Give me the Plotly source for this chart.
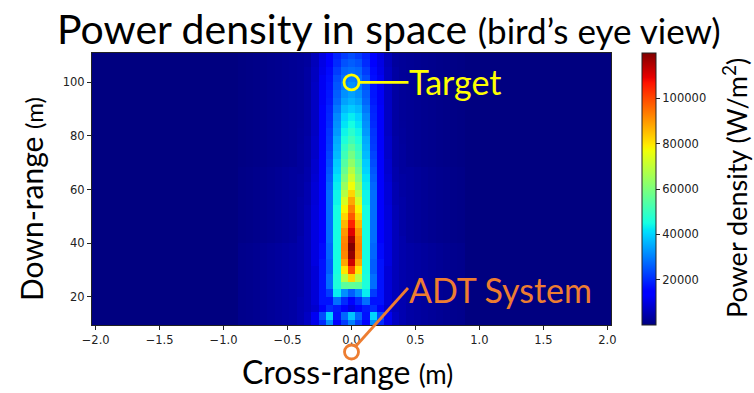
import numpy as np
import plotly.graph_objects as go

# Grid of the simulated field: cross-range columns and down-range rows (m)
cross_range = np.linspace(-2.0, 2.0, 71)
down_range = np.linspace(10.0, 110.0, 36)

# Power density (W/m^2) along each down-range row, from the beam axis outward
# (column 0 is 0 m, then one column per 4/70 m). The field is symmetric about
# the axis and negligible beyond the listed columns.
half_profiles = [
    [30000, 22000, 15000, 32000, 20000, 11000, 7000, 5000, 3800, 3400, 3000, 2600, 2200, 1800, 1500, 1200],  # 10.0
    [38000, 27000, 17000, 40000, 24000, 12000, 7000, 5000, 3800, 3400, 3000, 2600, 2200, 1800, 1500, 1200],  # 12.9
    [10000, 13000, 18000, 20000, 13000, 8000, 6000, 5000, 3800, 3400, 3000, 2600, 2200, 1800, 1500, 1200],   # 15.7
    [14000, 20000, 28000, 17000, 17000, 9000, 6000, 5000, 3800, 3400, 3000, 2600, 2200, 1800, 1500, 1200],   # 18.6
    [26000, 32000, 43000, 22000, 17000, 9000, 6000, 4500, 3800, 3400, 3000, 2600, 2200, 1800, 1500, 1200],   # 21.4
    [56000, 55000, 46000, 28000, 17000, 9000, 6000, 4500, 3800, 3400, 3000, 2600, 2200, 1800, 1500, 1200],   # 24.3
    [82000, 68000, 46000, 28000, 17000, 9000, 6000, 4500, 3800, 3400, 3000, 2600, 2200, 1800, 1500, 1200],   # 27.1
    [100000, 80000, 45000, 26000, 17000, 9000, 6000, 4500, 3800, 3400, 3000, 2600, 2200, 1800, 1500, 1200],  # 30.0
    [112000, 88000, 45000, 26000, 17000, 10000, 6000, 4500, 3800, 3400, 3000, 2600, 2200, 1800, 1500, 1200], # 32.9
    [118000, 92000, 45000, 27000, 16000, 10000, 6000, 4500, 3800, 3400, 3000, 2600, 2200, 1800, 1500, 1200], # 35.7
    [120000, 93000, 45000, 27000, 16000, 10000, 6000, 4500, 3800, 3400, 3000, 2600, 2200, 1800, 1500, 1200], # 38.6
    [116000, 92000, 45000, 28000, 15000, 10000, 6000, 4500, 3000, 2600, 2200, 1800, 1500, 1200, 900, 700],   # 41.4
    [110000, 90000, 45000, 28000, 15000, 10000, 6000, 4000, 3000, 2600, 2200, 1800, 1500, 1200, 900, 700],   # 44.3
    [105000, 86000, 45000, 28000, 15000, 10000, 6000, 4000, 3000, 2600, 2200, 1800, 1500, 1200, 900, 700],   # 47.1
    [98000, 82000, 45000, 28000, 15000, 9500, 5500, 4000, 3000, 2600, 2200, 1800, 1500, 1200, 900, 700],     # 50.0
    [93000, 78000, 45000, 28000, 15000, 9500, 5500, 4000, 3000, 2600, 2200, 1800, 1500, 1200, 900, 700],     # 52.9
    [88000, 73000, 44000, 28000, 15000, 9000, 5000, 4000, 3000, 2600, 2200, 1800, 1500, 1200, 900, 700],     # 55.7
    [82000, 68000, 44000, 28000, 15000, 9000, 5000, 3500, 3000, 2600, 2200, 1800, 1500, 1200, 900, 700],     # 58.6
    [77000, 64000, 43000, 27000, 15000, 9000, 5000, 3500, 3000, 2600, 2200, 1800, 1500, 1200, 900, 700],     # 61.4
    [72000, 60000, 42000, 26000, 14500, 8500, 4500, 3500, 3000, 2600, 2200, 1800, 1500, 1200, 900, 700],     # 64.3
    [68000, 57000, 40000, 25000, 14000, 8000, 4500, 3000, 3000, 2600, 2200, 1800, 1500, 1200, 900, 700],     # 67.1
    [63000, 54000, 39000, 24000, 14000, 8000, 4000, 3000, 2200, 1900, 1600, 1300, 1000, 800, 600, 400],      # 70.0
    [59000, 51000, 37000, 23000, 13500, 7500, 4000, 3000, 2200, 1900, 1600, 1300, 1000, 800, 600, 400],      # 72.9
    [55000, 49000, 36000, 22000, 13000, 7500, 4000, 3000, 2200, 1900, 1600, 1300, 1000, 800, 600, 400],      # 75.7
    [51000, 46000, 35000, 21500, 13000, 7500, 4000, 2800, 2200, 1900, 1600, 1300, 1000, 800, 600, 400],      # 78.6
    [48000, 44000, 33000, 21000, 13000, 7000, 3500, 2800, 2200, 1900, 1600, 1300, 1000, 800, 600, 400],      # 81.4
    [45000, 42000, 32000, 20000, 13000, 7000, 3500, 2600, 2200, 1900, 1600, 1300, 1000, 800, 600, 400],      # 84.3
    [43000, 40000, 31000, 19500, 13000, 7000, 3500, 2500, 2200, 1900, 1600, 1300, 1000, 800, 600, 400],      # 87.1
    [39000, 37000, 29000, 19000, 13000, 7000, 3500, 2500, 2200, 1900, 1600, 1300, 1000, 800, 600, 400],      # 90.0
    [36000, 34000, 27000, 18000, 12500, 7000, 3500, 2500, 2200, 1900, 1600, 1300, 1000, 800, 600, 400],      # 92.9
    [34000, 32000, 26000, 17500, 12500, 7000, 3500, 2500, 2200, 1900, 1600, 1300, 1000, 800, 600, 400],      # 95.7
    [32000, 30000, 25000, 17000, 12000, 7000, 3500, 2500, 2200, 1900, 1600, 1300, 1000, 800, 600, 400],      # 98.6
    [30000, 28500, 24000, 16500, 12000, 6500, 3500, 2500, 2200, 1900, 1600, 1300, 1000, 800, 600, 400],      # 101.4
    [28000, 27000, 22000, 16000, 11000, 6500, 3500, 2500, 2200, 1900, 1600, 1300, 1000, 800, 600, 400],      # 104.3
    [26000, 24500, 20000, 15000, 10500, 6000, 3000, 2500, 2200, 1900, 1600, 1300, 1000, 800, 600, 400],      # 107.1
    [24000, 22000, 19000, 14000, 10000, 6000, 3000, 2500, 2200, 1900, 1600, 1300, 1000, 800, 600, 400],      # 110.0
]

colorbar_ticks = [20000, 40000, 60000, 80000, 100000]
x_ticks = [-2.0, -1.5, -1.0, -0.5, 0.0, 0.5, 1.0, 1.5, 2.0]
y_ticks = [20, 40, 60, 80, 100]

# Mirror each half profile into a full row across all cross-range columns
n_half = (len(cross_range) - 1) // 2
z = []
for half in half_profiles:
    row = []
    for k in range(-n_half, n_half + 1):
        row.append(half[abs(k)] if abs(k) < len(half) else 0)
    z.append(row)

# matplotlib "jet" colormap as a plotly colorscale
_jet = {
    "r": [(0, 0), (0.35, 0), (0.66, 1), (0.89, 1), (1, 0.5)],
    "g": [(0, 0), (0.125, 0), (0.375, 1), (0.64, 1), (0.91, 0), (1, 0)],
    "b": [(0, 0.5), (0.11, 1), (0.34, 1), (0.65, 0), (1, 0)],
}
_stops = sorted({p for seg in _jet.values() for p, _ in seg})


def _chan(seg, t):
    xs, vs = zip(*seg)
    return float(np.interp(t, xs, vs))


jet = [
    [t, "rgb({:.0f},{:.0f},{:.0f})".format(
        255 * _chan(_jet["r"], t), 255 * _chan(_jet["g"], t), 255 * _chan(_jet["b"], t))]
    for t in _stops
]

W, H = 754, 393
L, R, T, B = 92, 143, 53, 68
PW, PH = W - L - R, H - T - B


def px(xp):
    return (xp - L) / PW


def py(yp):
    return (H - B - yp) / PH


half_step = (cross_range[1] - cross_range[0]) / 2

fig = go.Figure(
    go.Heatmap(
        x=cross_range,
        y=down_range,
        z=z,
        colorscale=jet,
        zmin=0,
        zmax=120000,
        colorbar=dict(
            x=px(642), xanchor="left", xref="paper", xpad=0,
            y=0.5, yanchor="middle", ypad=0, len=1, lenmode="fraction",
            thickness=14, outlinewidth=1, outlinecolor="#222",
            tickvals=colorbar_ticks, tickformat="d", ticks="outside", ticklen=4,
            tickcolor="#222", tickwidth=1,
            tickfont=dict(family="DejaVu Sans", size=11.5, color="#222"),
        ),
        hoverinfo="skip",
    )
)

axis_font = dict(family="DejaVu Sans", size=11.5, color="#222")
fig.update_xaxes(
    range=[cross_range[0] - half_step, cross_range[-1] + half_step],
    tickvals=x_ticks, tickformat=".1f", ticks="outside", ticklen=4,
    tickcolor="#222", showline=True, linecolor="#222", linewidth=1, mirror=True,
    showgrid=False, zeroline=False, tickfont=axis_font,
)
fig.update_yaxes(
    range=[9.45, 110.95],
    tickvals=y_ticks, ticks="outside", ticklen=4,
    tickcolor="#222", showline=True, linecolor="#222", linewidth=1, mirror=True,
    showgrid=False, zeroline=False, tickfont=axis_font,
)

yellow = "#FFFF00"
orange = "#ED7D31"
txt = "Lato"

shapes = [
    # target marker and its leader line
    dict(type="circle", xref="x", yref="y", xsizemode="pixel", ysizemode="pixel",
         xanchor=0, yanchor=100, x0=-7.5, x1=7.5, y0=-7.5, y1=7.5,
         line=dict(color=yellow, width=2.8)),
    dict(type="line", xref="x", yref="y", xsizemode="pixel", ysizemode="pixel",
         xanchor=0, yanchor=100, x0=8, x1=57, y0=0, y1=0,
         line=dict(color=yellow, width=2.8)),
    # system marker below the axis and its leader line
    dict(type="circle", xref="paper", yref="paper", xsizemode="pixel", ysizemode="pixel",
         xanchor=0.5, yanchor=py(352), x0=-7, x1=7, y0=-7, y1=7,
         line=dict(color=orange, width=2.8)),
    dict(type="line", xref="paper", yref="paper",
         x0=px(356), y0=py(346), x1=px(408), y1=py(288),
         line=dict(color=orange, width=2.8)),
]

annotations = [
    dict(text='Power density in space <span style="font-size:35px">(bird\u2019s eye view)</span>',
         x=px(55), y=py(28), xanchor="left", yanchor="middle",
         font=dict(family=txt, size=41, color="black")),
    dict(text='Down-range <span style="font-size:24px">(m)</span>', textangle=-90,
         x=px(31), y=py(199), xanchor="center", yanchor="middle",
         font=dict(family=txt, size=30, color="black")),
    dict(text='Cross-range <span style="font-size:26px">(m)</span>',
         x=px(347), y=py(371), xanchor="center", yanchor="middle",
         font=dict(family=txt, size=32, color="black")),
    dict(text="Power density (W/m<sup>2</sup>)", textangle=-90,
         x=px(735), y=py(188), xanchor="center", yanchor="middle",
         font=dict(family=txt, size=27, color="black")),
    dict(text="Target", x=px(407), y=py(82), xanchor="left", yanchor="middle",
         font=dict(family=txt, size=34, color=yellow)),
    dict(text="ADT System", x=px(407), y=py(289), xanchor="left", yanchor="middle",
         font=dict(family=txt, size=34, color=orange)),
]
for a in annotations:
    a.update(xref="paper", yref="paper", showarrow=False)

fig.update_layout(
    width=W, height=H,
    margin=dict(l=L, r=R, t=T, b=B, autoexpand=False),
    paper_bgcolor="white", plot_bgcolor="white",
    shapes=shapes, annotations=annotations,
    showlegend=False,
)

fig.write_html("out.html")
